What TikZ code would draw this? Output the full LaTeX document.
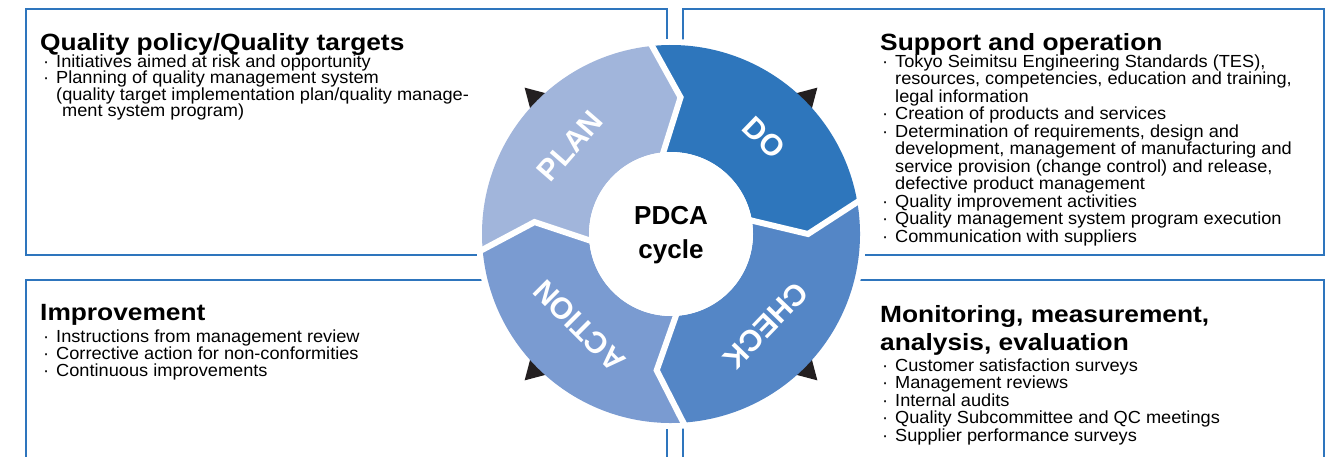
\documentclass[tikz,border=0pt]{standalone}
\usepackage{fontspec}
\setmainfont{Liberation Sans}
\newfontfamily\headfont{Liberation Sans}[FakeStretch=1.12]
\newfontfamily\itemfont{Liberation Sans}[FakeStretch=1.04]
\usetikzlibrary{calc, positioning}

\definecolor{boxblue}{RGB}{46,117,189}
\definecolor{plancol}{RGB}{161,181,219}
\definecolor{docol}{RGB}{46,118,188}
\definecolor{checkcol}{RGB}{84,134,198}
\definecolor{actcol}{RGB}{122,155,209}
\definecolor{tipblack}{RGB}{35,31,32}

\newcommand{\bul}{\makebox[13pt][l]{\textperiodcentered}}
\newcommand{\ind}{\hspace*{13pt}}

\begin{document}
\begin{tikzpicture}[x=1pt, y=1pt]
    % Define the styles
    \tikzset{
        panel/.style = {draw=boxblue, line width=2.4pt},
        head/.style = {anchor=base west, inner sep=0pt, align=left, font=\headfont\bfseries\fontsize{23.5}{28}\selectfont},
        items/.style = {anchor=base west, inner sep=0pt, align=left, font=\itemfont\fontsize{17.5}{17.5}\selectfont},
        gap/.style = {draw=white, line width=6pt, line join=miter},
        seglabel/.style = {text=white, inner sep=0pt, font=\bfseries\fontsize{30}{30}\selectfont},
        arrowtip/.style = {fill=tipblack},
    }
    \useasboundingbox (0,-456) rectangle (1335,0);
    \coordinate (C) at (671,-234);

    % Panels
    \draw[panel] (26,-9) rectangle (667,-255);
    \draw[panel] (683,-9) rectangle (1324,-255);
    \draw[panel] (26,-470) -- (26,-280) -- (667,-280) -- (667,-470);
    \draw[panel] (683,-470) -- (683,-280) -- (1324,-280) -- (1324,-470);

    % Clear space round the cycle
    \fill[white] (C) circle (195pt);

    % Arrow tips behind the ring
    \fill[arrowtip] ($(C)+(135:207)$) -- ($(C)+(135:176)+(45:18)$) -- ($(C)+(135:176)+(225:18)$) -- cycle;
    \fill[arrowtip] ($(C)+(45:207)$) -- ($(C)+(45:176)+(135:18)$) -- ($(C)+(45:176)+(-45:18)$) -- cycle;
    \fill[arrowtip] ($(C)+(-45:207)$) -- ($(C)+(-45:176)+(45:18)$) -- ($(C)+(-45:176)+(-135:18)$) -- cycle;
    \fill[arrowtip] ($(C)+(-135:207)$) -- ($(C)+(-135:176)+(135:18)$) -- ($(C)+(-135:176)+(-45:18)$) -- cycle;

    % Ring segments
    \fill[plancol] ($(C)+(185:189)$) arc[start angle=185, end angle=96, radius=189pt]
        -- ($(C)+(86:137)$) -- ($(C)+(96:82)$) arc[start angle=96, end angle=185, radius=82pt]
        -- ($(C)+(175:137)$) -- cycle;
    \fill[docol] ($(C)+(96:189)$) arc[start angle=96, end angle=10, radius=189pt]
        -- ($(C)+(0:137)$) -- ($(C)+(10:82)$) arc[start angle=10, end angle=96, radius=82pt]
        -- ($(C)+(86:137)$) -- cycle;
    \fill[checkcol] ($(C)+(10:189)$) arc[start angle=10, end angle=-86, radius=189pt]
        -- ($(C)+(-96:137)$) -- ($(C)+(-86:82)$) arc[start angle=-86, end angle=10, radius=82pt]
        -- ($(C)+(0:137)$) -- cycle;
    \fill[actcol] ($(C)+(-86:189)$) arc[start angle=-86, end angle=-175, radius=189pt]
        -- ($(C)+(-185:137)$) -- ($(C)+(-175:82)$) arc[start angle=-175, end angle=-86, radius=82pt]
        -- ($(C)+(-96:137)$) -- cycle;

    % White gaps between the segments
    \draw[gap] ($(C)+(96:191)$) -- ($(C)+(86:137)$) -- ($(C)+(96:80)$);
    \draw[gap] ($(C)+(10:191)$) -- ($(C)+(0:137)$) -- ($(C)+(10:80)$);
    \draw[gap] ($(C)+(-86:191)$) -- ($(C)+(-96:137)$) -- ($(C)+(-86:80)$);
    \draw[gap] ($(C)+(-175:191)$) -- ($(C)+(-185:137)$) -- ($(C)+(-175:80)$);
    \fill[white] (C) circle (82pt);

    % Ring labels
    \node[seglabel, rotate=49] (plan) at ($(C)+(139:134)$) {PLAN};
    \node[seglabel, rotate=-44] (do) at ($(C)+(46:134)$) {DO};
    \node[seglabel, rotate=-134] (check) at ($(C)+(-44:132)$) {CHECK};
    \node[seglabel, rotate=135] (action) at ($(C)+(-135:130)$) {ACTION};
    \node[align=center, font=\bfseries\fontsize{26}{34}\selectfont] (pdca) at ($(C)+(0,-1)$) {PDCA\\cycle};

    % Quality policy panel
    \node[head] (planhead) at (40,-50) {Quality policy/Quality targets};
    \node[items, font=\itemfont\fontsize{17.5}{16.6}\selectfont] (planitems) at (43,-116.8)
        {\bul Initiatives aimed at risk and opportunity\\
        \bul Planning of quality management system\\
        \ind(quality target implementation plan/quality manage-\\
        \ind\hspace*{6pt}ment system program)};

    % Support and operation panel
    \node[head] (dohead) at (880,-50) {Support and operation};
    \node[items] (doitems) at (882,-242)
        {\bul Tokyo Seimitsu Engineering Standards (TES),\\
        \ind resources, competencies, education and training,\\
        \ind legal information\\
        \bul Creation of products and services\\
        \bul Determination of requirements, design and\\
        \ind development, management of manufacturing and\\
        \ind service provision (change control) and release,\\
        \ind defective product management\\
        \bul Quality improvement activities\\
        \bul Quality management system program execution\\
        \bul Communication with suppliers};

    % Improvement panel
    \node[head] (acthead) at (40,-320) {Improvement};
    \node[items, font=\itemfont\fontsize{17.5}{17}\selectfont] (actitems) at (43,-376)
        {\bul Instructions from management review\\
        \bul Corrective action for non-conformities\\
        \bul Continuous improvements};

    % Monitoring panel
    \node[head] (checkhead) at (880,-350) {Monitoring, measurement,\\analysis, evaluation};
    \node[items] (checkitems) at (882,-441)
        {\bul Customer satisfaction surveys\\
        \bul Management reviews\\
        \bul Internal audits\\
        \bul Quality Subcommittee and QC meetings\\
        \bul Supplier performance surveys};
\end{tikzpicture}
\end{document}
